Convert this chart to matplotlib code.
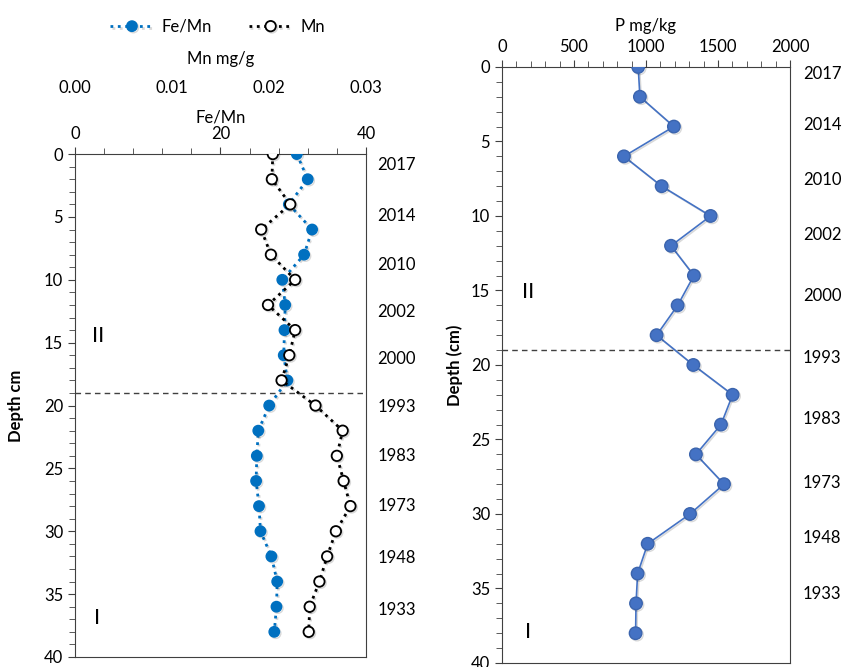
import matplotlib
matplotlib.use('Agg')
from matplotlib import pyplot as plt
from matplotlib.ticker import MultipleLocator, FormatStrFormatter
import matplotlib.patheffects as pe

plt.rcParams['font.family'] = ['Lato', 'DejaVu Sans']

# depth of each sample (cm)
depth = [0, 2, 4, 6, 8, 10, 12, 14, 16, 18, 20, 22, 24, 26, 28, 30, 32, 34, 36, 38]
fe_mn = [30.5, 32.0, 29.4, 32.6, 31.5, 28.5, 28.9, 28.8, 28.7, 29.2,
         26.7, 25.2, 25.0, 24.9, 25.3, 25.5, 27.0, 27.8, 27.7, 27.4]
mn = [0.0204, 0.0203, 0.0222, 0.0192, 0.0202, 0.0227, 0.0199, 0.0227, 0.0221, 0.0213,
      0.0248, 0.0276, 0.0270, 0.0277, 0.0284, 0.0269, 0.0260, 0.0252, 0.0242, 0.0241]
p_mgkg = [946, 958, 1194, 847, 1109, 1449, 1174, 1333, 1220, 1074,
          1329, 1602, 1521, 1347, 1542, 1306, 1012, 942, 931, 928]

years = ['2017', '2014', '2010', '2002', '2000', '1993', '1983', '1973', '1948', '1933']
year_depth_left = [0.9, 4.9, 8.8, 12.6, 16.3, 20.1, 24.0, 28.0, 32.1, 36.3]
year_depth_right = [0.5, 3.9, 7.6, 11.3, 15.4, 19.5, 23.6, 27.9, 31.6, 35.4]
boundary = 19

spine_col = '#404040'
shadow = [pe.SimpleLineShadow(offset=(1, -1), alpha=0.15, shadow_color='black'), pe.Normal()]


def style_depth_axes(a):
    a.yaxis.set_major_locator(MultipleLocator(5))
    a.yaxis.set_minor_locator(MultipleLocator(1))
    a.tick_params(axis='both', which='both', direction='out', colors=spine_col,
                  labelcolor='black', labelsize=12)
    a.tick_params(axis='both', which='major', length=5)
    a.tick_params(axis='both', which='minor', length=4)
    for s in a.spines.values():
        s.set_color(spine_col)


fig = plt.figure(figsize=(8.54, 6.67), dpi=100)

# ---- left panel: Fe/Mn and Mn ----
ax = fig.add_axes([0.0878, 0.015, 0.3407, 0.754])
ax2 = ax.twiny()

ax.set_xlim(0, 40)
ax.set_ylim(40, 0)
l1, = ax.plot(fe_mn, depth, ls=':', lw=2, color='#0070C0', marker='o', ms=7.5,
              mfc='#0070C0', mec='#0070C0', zorder=3, path_effects=shadow)
ax.axhline(boundary, color='#404040', ls=(0, (4, 3)), lw=1)
ax.xaxis.tick_top()
ax.xaxis.set_label_position('top')
ax.xaxis.set_major_locator(MultipleLocator(20))
ax.xaxis.set_minor_locator(MultipleLocator(4))
style_depth_axes(ax)
ax.set_xlabel('Fe/Mn', fontsize=12, labelpad=3)
ax.set_ylabel('Depth cm', fontsize=12, fontweight='bold', labelpad=14)

ax2.set_xlim(0, 0.03)
ax2.set_ylim(40, 0)
l2, = ax2.plot(mn, depth, ls=':', lw=2, color='black', marker='o', ms=7.5,
               mfc='white', mec='black', mew=1.3, zorder=4, path_effects=shadow)
ax2.xaxis.tick_top()
ax2.xaxis.set_label_position('top')
ax2.xaxis.set_major_locator(MultipleLocator(0.01))
ax2.xaxis.set_major_formatter(FormatStrFormatter('%.2f'))
ax2.spines['top'].set_position(('outward', 38))
for s in ax2.spines.values():
    s.set_visible(False)
ax2.tick_params(axis='x', length=0, labelsize=12, pad=4)
ax2.set_xlabel('Mn mg/g', fontsize=12, labelpad=11)

ax.text(3.2, 14.5, 'II', fontsize=16, ha='center', va='center')
ax.text(3.0, 36.9, 'I', fontsize=16, ha='center', va='center')
for yr, d in zip(years, year_depth_left):
    ax.text(41.6, d, yr, fontsize=12, ha='left', va='center', clip_on=False)

fig.legend([l1, l2], ['Fe/Mn', 'Mn'], loc='center', ncol=2, frameon=False,
           bbox_to_anchor=(0.255, 1 - 27 / 667), fontsize=12, columnspacing=2.2,
           handlelength=2.6, handletextpad=0.5)

# ---- right panel: P ----
bx = fig.add_axes([0.5878, 0.006, 0.3372, 0.8936])
bx.set_xlim(0, 2000)
bx.set_ylim(40, 0)
bx.plot(p_mgkg, depth, ls='-', lw=1.2, color='#4472C4', marker='o', ms=9,
        mfc='#4472C4', mec='#3B64AD', zorder=3, path_effects=shadow)
bx.axhline(boundary, color='#404040', ls=(0, (4, 3)), lw=1)
bx.xaxis.tick_top()
bx.xaxis.set_label_position('top')
bx.xaxis.set_major_locator(MultipleLocator(500))
bx.xaxis.set_minor_locator(MultipleLocator(100))
style_depth_axes(bx)
bx.set_xlabel('P mg/kg', fontsize=12, labelpad=6)
bx.set_ylabel('Depth (cm)', fontsize=12, fontweight='bold', labelpad=6)

bx.text(180, 15.1, 'II', fontsize=16, ha='center', va='center')
bx.text(180, 37.9, 'I', fontsize=16, ha='center', va='center')
for yr, d in zip(years, year_depth_right):
    bx.text(2090, d, yr, fontsize=12, ha='left', va='center', clip_on=False)

fig.savefig('out.png', dpi=100)
